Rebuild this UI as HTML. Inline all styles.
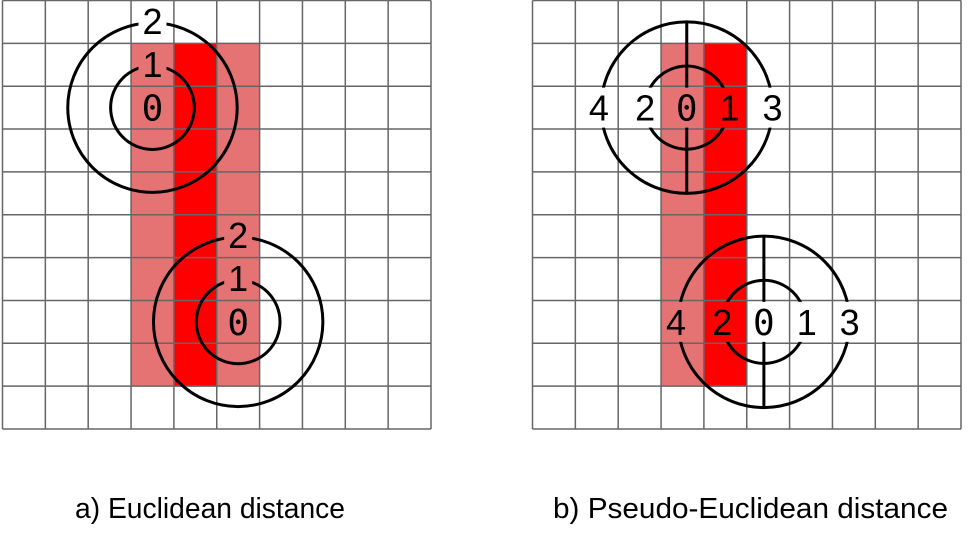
<!DOCTYPE html>
<html><head><meta charset="utf-8"><style>
html,body{margin:0;padding:0;background:#fff;width:971px;height:539px;overflow:hidden}
svg{display:block}
.sans{font-family:"Liberation Sans",Arial,sans-serif}
.mono{font-family:"DejaVu Sans Mono","Liberation Mono",monospace}
</style></head><body>
<svg id="fig" width="971" height="539" viewBox="0 0 971 539" xmlns="http://www.w3.org/2000/svg">
<text class="sans" x="75" y="518" font-size="29" textLength="270" lengthAdjust="spacingAndGlyphs">a) Euclidean distance</text>
<text class="sans" x="553" y="518" font-size="29" textLength="395" lengthAdjust="spacingAndGlyphs">b) Pseudo-Euclidean distance</text>
</svg>
<script>
const NS='http://www.w3.org/2000/svg';
const svg=document.getElementById('fig');
// grid data
const gridCols=10, gridRows=10;
const panelOrigins=[2.5,532.5];
const cell=42.85;
const gridTop=0.5;
// shaded columns: [panel, col, rowStart, rowEnd, kind]
const shadedCols=[[0,3,1,8,'pink'],[0,4,1,8,'red'],[0,5,1,8,'pink'],[1,3,1,8,'pink'],[1,4,1,8,'red']];
// circle centers in cell units (panel, cx, cy), radii in cells
const centersA=[[0,3.5,2.5],[0,5.5,7.5]];
const radiiA=[1.0,2.0];
const centersB=[[1,3.6,2.5],[1,5.4,7.5]];
const radiiB=[0.97,2.0];
const labelsB=['4','2','0','1','3'];
const labelOffB=[-2.05,-0.97,0,1.0,2.0];

function X(p,c){return panelOrigins[p]+c*cell;}
function Y(r){return gridTop+r*cell;}
function mk(tag,attrs,parent){const e=document.createElementNS(NS,tag);for(const k in attrs)e.setAttribute(k,attrs[k]);(parent||svg).appendChild(e);return e;}

shadedCols.forEach(s=>{
  const r=mk('rect',{x:X(s[0],s[1]),y:Y(s[2]),width:cell,height:(s[3]-s[2]+1)*cell,fill:s[4]==='red'?'#ff0000':'#e57373'});
  
  
});
panelOrigins.forEach((o,p)=>{
  const g=mk('g',{stroke:'#666','stroke-width':1.5});
  
  
  for(let i=0;i<=gridCols;i++)mk('line',{x1:X(p,i),x2:X(p,i),y1:Y(0),y2:Y(gridRows)},g);
  for(let j=0;j<=gridRows;j++)mk('line',{x1:X(p,0),x2:X(p,gridCols),y1:Y(j),y2:Y(j)},g);
});
const defs=mk('defs',{});
const mask=mk('mask',{id:'gaps',maskUnits:'userSpaceOnUse',x:0,y:0,width:971,height:539},defs);
mk('rect',{x:0,y:0,width:971,height:539,fill:'#fff'},mask);
function gap(x,y,w,h){mk('rect',{x:x-w/2,y:y-h/2,width:w,height:h,fill:'#000'},mask);}
const shapes=mk('g',{mask:'url(#gaps)',stroke:'#000','stroke-width':3,fill:'none'});


function label(t,x,y,mono){
  const e=mk('text',{x:x,y:y+13,'text-anchor':'middle','font-size':36,'class':mono?'mono':'sans',fill:'#000'});
  e.textContent=t;
  
  
}
centersA.forEach(c=>{
  const cx=X(c[0],c[1]), cy=Y(c[2]);
  radiiA.forEach((r,i)=>{
    const el=mk('circle',{cx:cx,cy:cy,r:r*cell-1},shapes);
    
    
    gap(cx,cy-r*cell,28,34);
    label(String(i+1),cx,cy-r*cell-1,false);
  });
  label('0',cx,cy,true);
});
centersB.forEach(c=>{
  const cx=X(c[0],c[1]), cy=Y(c[2]);
  radiiB.forEach((r,i)=>{
    const el=mk('circle',{cx:cx,cy:cy,r:r*cell},shapes);
    
    
  });
  const ln=mk('line',{x1:cx,x2:cx,y1:cy-radiiB[1]*cell,y2:cy+radiiB[1]*cell},shapes);
  
  
  labelsB.forEach((t,i)=>{
    const lx=cx+labelOffB[i]*cell;
    gap(lx,cy,28,40);
    label(t,lx,cy,t==='0');
  });
});
</script>
</body></html>
